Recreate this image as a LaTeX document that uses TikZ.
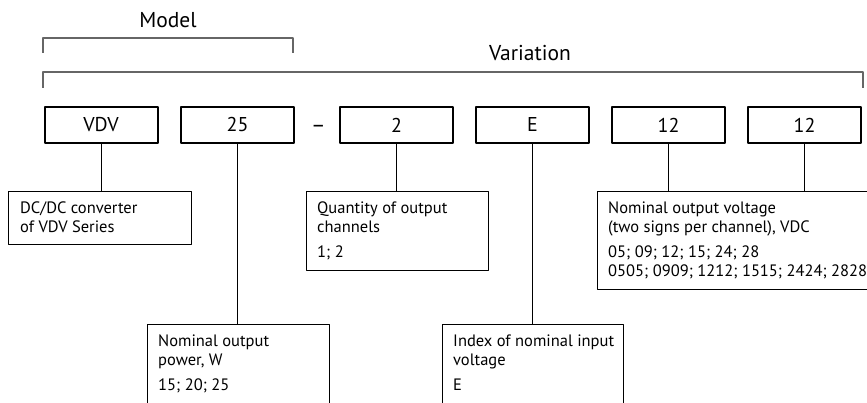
\documentclass[tikz,border=0pt]{standalone}
\usepackage{fontspec}
\setmainfont{PT Sans}
\usetikzlibrary{positioning,calc}

\begin{document}
\begin{tikzpicture}[x=1pt,y=-1pt, line join=round,
  code/.style={draw,line width=2pt,minimum width=113pt,minimum height=36pt,inner sep=0pt,font=\fontsize{20}{22}\selectfont},
  frame/.style={draw,line width=0.9pt,anchor=north west,inner sep=0pt},
  info/.style={anchor=north west,align=left,inner sep=0pt,font=\fontsize{16.5}{18.5}\selectfont},
  bracket/.style={draw=black!60,line width=1.1pt},
  head/.style={font=\fontsize{21.5}{24}\selectfont}]
\useasboundingbox (0,0) rectangle (867,403);
\clip (0,0) rectangle (867,403);
% group labels and brackets
\node[head] (model) at (168,20) {Model};
\node[head] (variation) at (530,53) {Variation};
\draw[bracket] (43,53)--(43,38)--(293,38)--(293,53);
\draw[bracket] (43,88)--(43,72)--(863,72)--(863,88);
% code fields
\node[code] (vdv) at (101,125) {VDV};
\node[code] (pw) at (237.5,125) {25};
\node[font=\fontsize{22}{24}\selectfont,anchor=base] (dash) at (318.5,133) {--};
\node[code] (ch) at (396.5,125) {2};
\node[code] (inp) at (532.5,125) {E};
\node[code] (outa) at (668.5,125) {12};
\node[code] (outb) at (804.5,125) {12};
% description boxes
\node[frame,minimum width=183pt,minimum height=53pt] (dcdc) at (8,191) {};
\node[frame,minimum width=182pt,minimum height=100pt] (power) at (147,324) {};
\node[frame,minimum width=182pt,minimum height=79pt] (qty) at (306,191) {};
\node[frame,minimum width=181pt,minimum height=100pt] (index) at (442,324) {};
\node[frame,minimum width=290pt,minimum height=98pt] (volt) at (597,191) {};
\node[info] (dcdc-txt) at ($(dcdc.north west)+(12,11)$) {DC/DC converter\\of VDV Series};
\node[info] (power-txt) at ($(power.north west)+(11,11)$) {Nominal output\\power, W\\[7pt]15; 20; 25};
\node[info] (qty-txt) at ($(qty.north west)+(11,11)$) {Quantity of output\\channels\\[7pt]1; 2};
\node[info] (index-txt) at ($(index.north west)+(11,11)$) {Index of nominal input\\voltage\\[7pt]E};
\node[info] (volt-txt) at ($(volt.north west)+(11,11)$) {Nominal output voltage\\(two signs per channel), VDC\\[7pt]05; 09; 12; 15; 24; 28\\0505; 0909; 1212; 1515; 2424; 2828};
% connectors
\draw[line width=0.9pt] (vdv.south) -- (vdv.south |- dcdc.north);
\draw[line width=0.9pt] (pw.south) -- (pw.south |- power.north);
\draw[line width=0.9pt] (ch.south) -- (ch.south |- qty.north);
\draw[line width=0.9pt] (inp.south) -- (inp.south |- index.north);
\draw[line width=0.9pt] (outa.south) -- (outa.south |- volt.north);
\draw[line width=0.9pt] (outb.south) -- (outb.south |- volt.north);
\end{tikzpicture}
\end{document}
